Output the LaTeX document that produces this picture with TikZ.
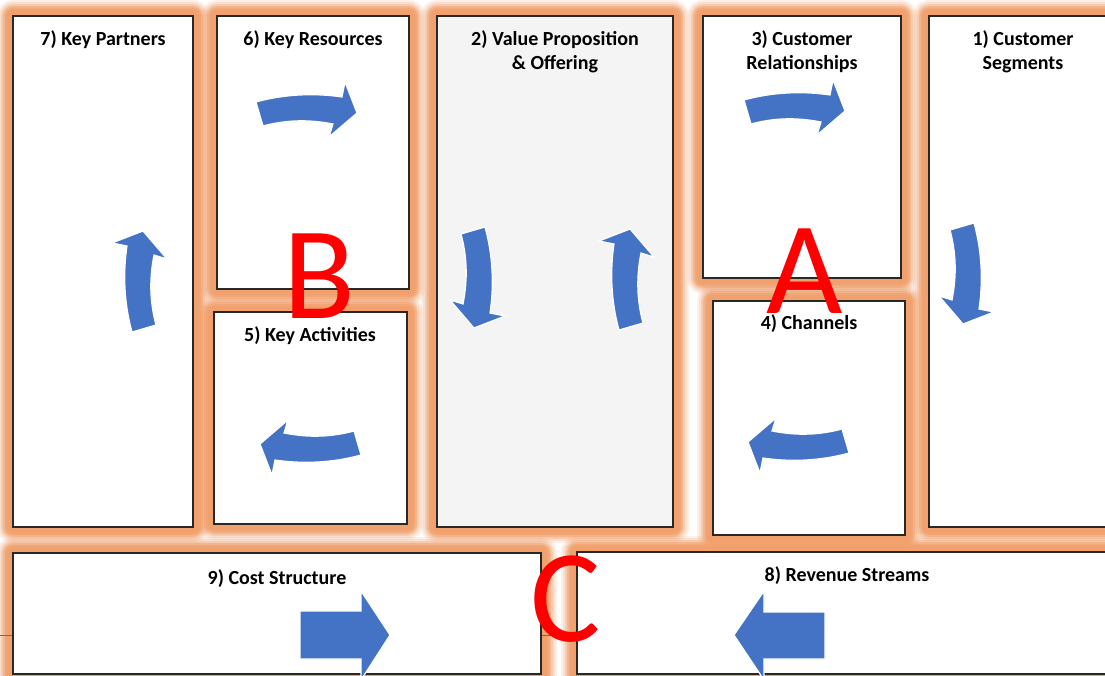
\documentclass[tikz,border=0pt]{standalone}
\usepackage{fontspec}
\setmainfont{Carlito}
\usetikzlibrary{fit}
\definecolor{glowc}{RGB}{241,160,108}
\definecolor{arrowblue}{RGB}{68,114,196}
\definecolor{vpgray}{RGB}{244,244,244}
\definecolor{edgec}{RGB}{40,40,40}
\definecolor{thinline}{RGB}{90,110,160}
\tikzset{
  cellbox/.style={draw=edgec, line width=1.1pt, inner sep=0pt, fill=white},
  celltitle/.style={font=\bfseries\fontsize{20}{24}\selectfont, align=center, anchor=base, inner sep=0pt},
  bigletter/.style={text=red, font=\fontsize{132}{132}\selectfont, anchor=base, inner sep=0pt},
  bluearrow/.style={fill=arrowblue, draw=white, line width=1.2pt},
  pics/curvarrow/.style={code={
    \path[bluearrow] (-44,-8) .. controls (-15,-16) and (15,-17) .. (42,-13) -- (45,-28) -- (57,3) -- (29,27) -- (33,14) .. controls (8,9) and (-15,10) .. (-37,16) -- cycle;}}
}
\begin{document}
\begin{tikzpicture}[x=1pt,y=-1pt]
\useasboundingbox (0,0) rectangle (1105,676);
\clip (0,0) rectangle (1105,676);
\fill[white] (0,0) rectangle (1105,676);
% glows
\foreach \x/\y/\X/\Y in {13/16/193/527, 217/16/409/289, 214/312/407/524, 437/16/673/527, 703/16/901/278, 713/301/905/535, 929/16/1117/527, 13/553/541/674, 577/552/1117/674} {
  \foreach \d/\o in {16/0.15, 14/0.2, 12/0.3, 10/0.5, 8/0.7, 6/0.8} {
    \fill[glowc, opacity=\o, rounded corners=\d pt] (\x-\d,\y-\d) rectangle (\X+\d,\Y+\d);
  }
}
\draw[thinline, line width=0.8pt] (0,635) -- (1105,635);
% boxes
\node[cellbox, fit={(13,16) (193,527)}] (kp) {};
\node[cellbox, fit={(217,16) (409,289)}] (kr) {};
\node[cellbox, fit={(214,312) (407,524)}] (ka) {};
\node[cellbox, fill=vpgray, fit={(437,16) (673,527)}] (vp) {};
\node[cellbox, fit={(703,16) (901,278)}] (cr) {};
\node[cellbox, fit={(713,301) (905,535)}] (ch) {};
\node[cellbox, fit={(929,16) (1117,527)}] (cs) {};
\node[cellbox, fit={(13,553) (541,674)}] (cost) {};
\node[cellbox, fit={(577,552) (1117,674)}] (rev) {};
% titles
\node[celltitle] (tkp) at (103,46) {7) Key Partners};
\node[celltitle] (tkr) at (313,46) {6) Key Resources};
\node[celltitle] (tvp) at (555,70) {2) Value Proposition\\\& Offering};
\node[celltitle] (tcr) at (802,70) {3) Customer\\Relationships};
\node[celltitle] (tcs) at (1023,70) {1) Customer\\Segments};
\node[celltitle] (tch) at (809,329) {4) Channels};
\node[celltitle] (tka) at (310,341) {5) Key Activities};
\node[celltitle] (tcost) at (277,584) {9) Cost Structure};
\node[celltitle] (trev) at (847,581) {8) Revenue Streams};
% curved arrows
\pic at (300,110) {curvarrow};
\pic at (788,108) {curvarrow};
\pic[rotate=180] at (317,447) {curvarrow};
\pic[rotate=180] at (805,445) {curvarrow};
\pic[rotate=-90] at (477,271) {curvarrow};
\pic[rotate=-90] at (966,267) {curvarrow};
\pic[rotate=90] at (627,286) {curvarrow};
\pic[rotate=90] at (140,288) {curvarrow};
% straight arrows
\path[bluearrow] (300,611) -- (361,611) -- (361,591) -- (390,635) -- (361,680) -- (361,659) -- (300,659) -- cycle;
\path[bluearrow] (825,612) -- (764,612) -- (764,591) -- (734,635) -- (764,680) -- (764,659) -- (825,659) -- cycle;
% letters
\node[bigletter] (la) at (805,313) {A};
\node[bigletter] (lb) at (319,318) {B};
\node[bigletter] (lc) at (566,641) {C};
\end{tikzpicture}
\end{document}
